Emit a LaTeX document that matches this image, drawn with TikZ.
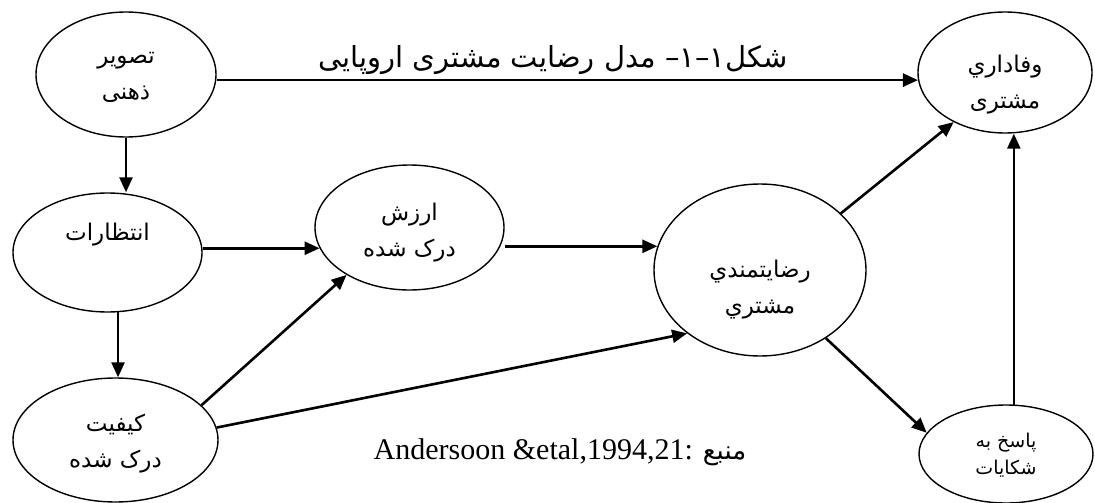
\documentclass[tikz,border=0pt]{standalone}
\usepackage{fontspec}
\setmainfont{Liberation Serif}
\newfontfamily\fafont[Script=Arabic]{DejaVu Sans}
\TeXXeTstate=1
\usetikzlibrary{arrows.meta,shapes.geometric}
\newcommand{\fa}[1]{\beginR #1\endR}
\tikzset{
	oval/.style={draw, ellipse, line width=1.4pt, inner sep=0pt},
	lbl/.style={font=\fafont\fontsize{23}{36}\selectfont, align=center},
	conn/.style={line width=2.6pt, -{Triangle[length=15pt,width=13pt]}}
}

\begin{document}
\begin{tikzpicture}[x=1pt, y=-1pt]
		%%%%% START %%%%%
		\useasboundingbox (0, 0) rectangle (1095, 503);
		
		\node[oval, minimum width=180pt, minimum height=125pt] (tasvir) at (126, 74.5) {};
		\node[oval, minimum width=189pt, minimum height=119pt] (entezar) at (107.5, 252.5) {};
		\node[oval, minimum width=205pt, minimum height=124pt] (keyfiyat) at (115.5, 440) {};
		\node[oval, minimum width=189pt, minimum height=125pt] (arzesh) at (409.5, 227.5) {};
		\node[oval, minimum width=212pt, minimum height=172pt] (reza) at (760, 270) {};
		\node[oval, minimum width=174pt, minimum height=121pt] (vafa) at (1005, 72.5) {};
		\node[oval, minimum width=174pt, minimum height=98pt] (pasokh) at (1006, 454) {};
		
		\node[lbl] (tasvir-t) at (126, 77.5) {\fa{تصویر}\\\fa{ذهنی}};
		\node[lbl] (entezar-t) at (107.5, 235) {\fa{انتظارات}};
		\node[lbl] (keyfiyat-t) at (115.5, 443.5) {\fa{کیفیت}\\\fa{درک شده}};
		\node[lbl] (arzesh-t) at (409.5, 232.5) {\fa{ارزش}\\\fa{درک شده}};
		\node[lbl] (reza-t) at (760, 290) {\fa{رضایتمندي}\\\fa{مشتري}};
		\node[lbl] (vafa-t) at (1005, 85) {\fa{وفاداري}\\\fa{مشتری}};
		\node[lbl, font=\fafont\fontsize{19}{27}\selectfont] (pasokh-t) at (1006, 455) {\fa{پاسخ  به}\\\fa{شکایات}};
		
		\node[font=\fafont\fontsize{29}{32}\selectfont] (title) at (553, 60) {\fa{شکل۱–۱– مدل رضایت مشتری اروپایی}};
		\node[font=\fontsize{30}{33}\selectfont] (src) at (560, 452) {Andersoon \&etal,1994,21: {\fafont\fontsize{26}{30}\selectfont\fa{منبع}}};
		
		\draw[conn] (tasvir.south) -- (tasvir.south |- entezar.north);
		\draw[conn] (entezar.280) -- (entezar.280 |- keyfiyat.north);
		\draw[conn] (entezar.east |- arzesh.193) -- (arzesh.193);
		\draw[conn] (arzesh.east |- reza.167) -- (reza.167);
		\draw[conn] (tasvir.east |- vafa.185) -- (vafa.185);
		\draw[conn] (reza.35) -- (vafa.224);
		\draw[conn] (reza.-46) -- (pasokh.165);
		\draw[conn] (pasokh.81) -- (pasokh.81 |- vafa.south);
		\draw[conn] (keyfiyat.22) -- (arzesh.217);
		\draw[conn] (keyfiyat.7) -- (reza.221);
		
		%%%%% END %%%%%
	\end{tikzpicture}
\end{document}
